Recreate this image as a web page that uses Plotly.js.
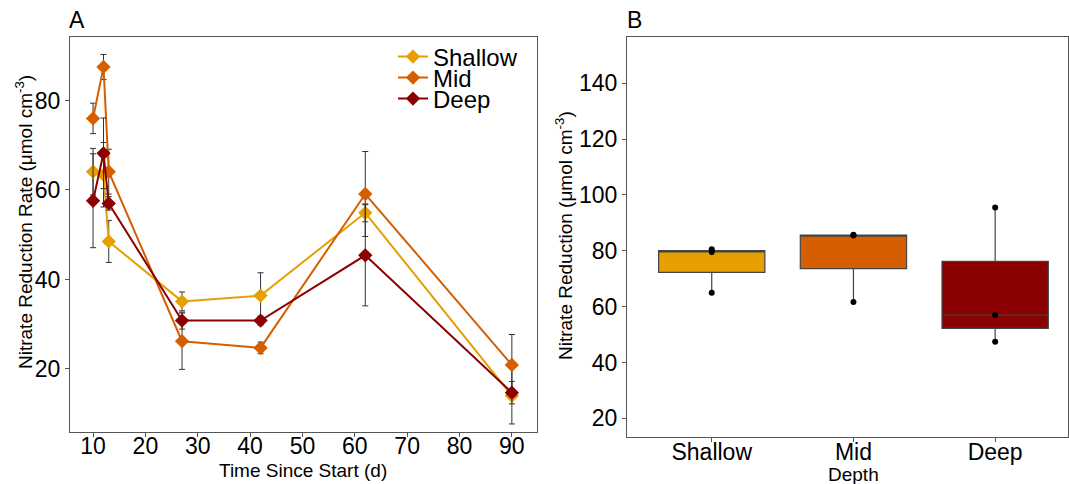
<!DOCTYPE html>
<html>
<head>
<meta charset="utf-8">
<script src="https://cdn.plot.ly/plotly-3.0.1.min.js"></script>
<style>
  html, body { margin: 0; padding: 0; background: #fff; }
  #chart { width: 1069px; height: 484px; }
</style>
</head>
<body>
<div id="chart"></div>
<script>
// ---- Panel A data: time series ----
const days = [10, 12, 13, 27, 42, 62, 90];
const shallowRate = [64.1, 63.4, 48.5, 35.1, 36.4, 54.9, 14.0];
const shallowErr  = [5.2, 7.2, 4.7, 2.1, 5.1, 2.0, 6.3];
const midRate     = [76.0, 87.5, 64.1, 26.2, 24.7, 59.1, 20.9];
const midErr      = [3.4, 2.8, 5.0, 6.3, 1.3, 9.5, 6.8];
const deepRate    = [57.6, 68.2, 57.0, 30.8, 30.8, 45.4, 14.7];
const deepErr     = [10.5, 7.9, 1.5, 1.9, 1.0, 11.3, 2.5];
const seriesNames = ["Shallow", "Mid", "Deep"];

// ---- Panel B data: cumulative reduction per depth ----
const depthCategories = ["Shallow", "Mid", "Deep"];
const shallowTotal = [65.0, 79.6, 80.6];
const midTotal     = [61.7, 85.5, 85.8];
const deepTotal    = [47.4, 57.0, 95.5];

const xTicksA = [10, 20, 30, 40, 50, 60, 70, 80, 90];
const yTicksA = [20, 40, 60, 80];
const yTicksB = [20, 40, 60, 80, 100, 120, 140];

// ---- styling ----
const colors = ["#E69F00", "#D55E00", "#8B0000"];
const FONT = "Arial, 'Liberation Sans', sans-serif";
const W = 1069, H = 484;
const px = v => v / W;
const py = v => 1 - v / H;

const rates = [shallowRate, midRate, deepRate];
const errs = [shallowErr, midErr, deepErr];
const legendIds = ["legend", "legend2", "legend3"];

const traces = [];
for (let i = 0; i < 3; i++) {
  traces.push({
    type: "scatter", mode: "lines+markers",
    x: days, y: rates[i], name: seriesNames[i],
    xaxis: "x", yaxis: "y",
    legend: legendIds[i],
    line: { color: colors[i], width: 2 },
    marker: { color: colors[i], symbol: "diamond", size: 11 },
    error_y: { type: "data", array: errs[i], visible: true, color: "#333", thickness: 1, width: 3 },
    showlegend: true
  });
}
const totals = [shallowTotal, midTotal, deepTotal];
for (let i = 0; i < 3; i++) {
  traces.push({
    type: "box",
    x: totals[i].map(() => depthCategories[i]),
    y: totals[i],
    name: depthCategories[i],
    xaxis: "x2", yaxis: "y2",
    fillcolor: colors[i],
    line: { color: "#444", width: 1.2 },
    whiskerwidth: 0,
    width: 0.75,
    quartilemethod: "inclusive",
    boxpoints: "all", jitter: 0, pointpos: 0,
    marker: { color: "#000", size: 6 },
    showlegend: false
  });
}

const axisCommon = {
  showgrid: false, zeroline: false,
  showline: true, linecolor: "#555", linewidth: 1, mirror: true,
  ticks: "outside", ticklen: 4, tickcolor: "#555", tickwidth: 1,
  tickfont: { family: FONT, size: 23, color: "#000" },
  automargin: false
};

const legendBase = (yc) => ({
  x: px(393), y: py(yc), xanchor: "left", yanchor: "middle",
  bgcolor: "rgba(0,0,0,0)", borderwidth: 0,
  font: { family: FONT, size: 24, color: "#000" },
  itemwidth: 30
});

const layout = {
  width: W, height: H,
  margin: { l: 0, r: 0, t: 0, b: 0 },
  paper_bgcolor: "#fff", plot_bgcolor: "#fff",
  font: { family: FONT, color: "#000" },
  boxmode: "overlay",
  xaxis: Object.assign({}, axisCommon, {
    domain: [px(70), px(537)], anchor: "y",
    range: [5.6, 94.8], tickvals: xTicksA,
    ticklabelstandoff: -11
  }),
  yaxis: Object.assign({}, axisCommon, {
    domain: [py(432), py(37)], anchor: "x",
    range: [5.9, 94.2], tickvals: yTicksA
  }),
  xaxis2: Object.assign({}, axisCommon, {
    domain: [px(627), px(1068)], anchor: "y2",
    type: "category", range: [-0.598, 2.514],
    tickfont: { family: FONT, size: 23, color: "#000" },
    ticklabelstandoff: -10
  }),
  yaxis2: Object.assign({}, axisCommon, {
    domain: [py(437), py(37)], anchor: "x2",
    range: [13.3, 156.6], tickvals: yTicksB
  }),
  legend: legendBase(57),
  legend2: legendBase(78),
  legend3: legendBase(99),
  annotations: [
    { text: "A", x: px(67), y: py(20), xref: "paper", yref: "paper", xanchor: "left", yanchor: "middle", showarrow: false, font: { family: FONT, size: 23 } },
    { text: "B", x: px(625), y: py(20), xref: "paper", yref: "paper", xanchor: "left", yanchor: "middle", showarrow: false, font: { family: FONT, size: 23 } },
    { text: "Nitrate Reduction Rate (μmol cm<sup>-3</sup>)", x: px(24), y: py(222), xref: "paper", yref: "paper", xanchor: "center", yanchor: "middle", textangle: -90, showarrow: false, font: { family: FONT, size: 19 } },
    { text: "Time Since Start (d)", x: px(303), y: py(470), xref: "paper", yref: "paper", xanchor: "center", yanchor: "middle", showarrow: false, font: { family: FONT, size: 19 } },
    { text: "Nitrate Reduction (μmol cm<sup>-3</sup>)", x: px(564), y: py(236), xref: "paper", yref: "paper", xanchor: "center", yanchor: "middle", textangle: -90, showarrow: false, font: { family: FONT, size: 19 } },
    { text: "Depth", x: px(853), y: py(474), xref: "paper", yref: "paper", xanchor: "center", yanchor: "middle", showarrow: false, font: { family: FONT, size: 19 } }
  ]
};

Plotly.newPlot("chart", traces, layout, { displayModeBar: false, staticPlot: true });
</script>
</body>
</html>
